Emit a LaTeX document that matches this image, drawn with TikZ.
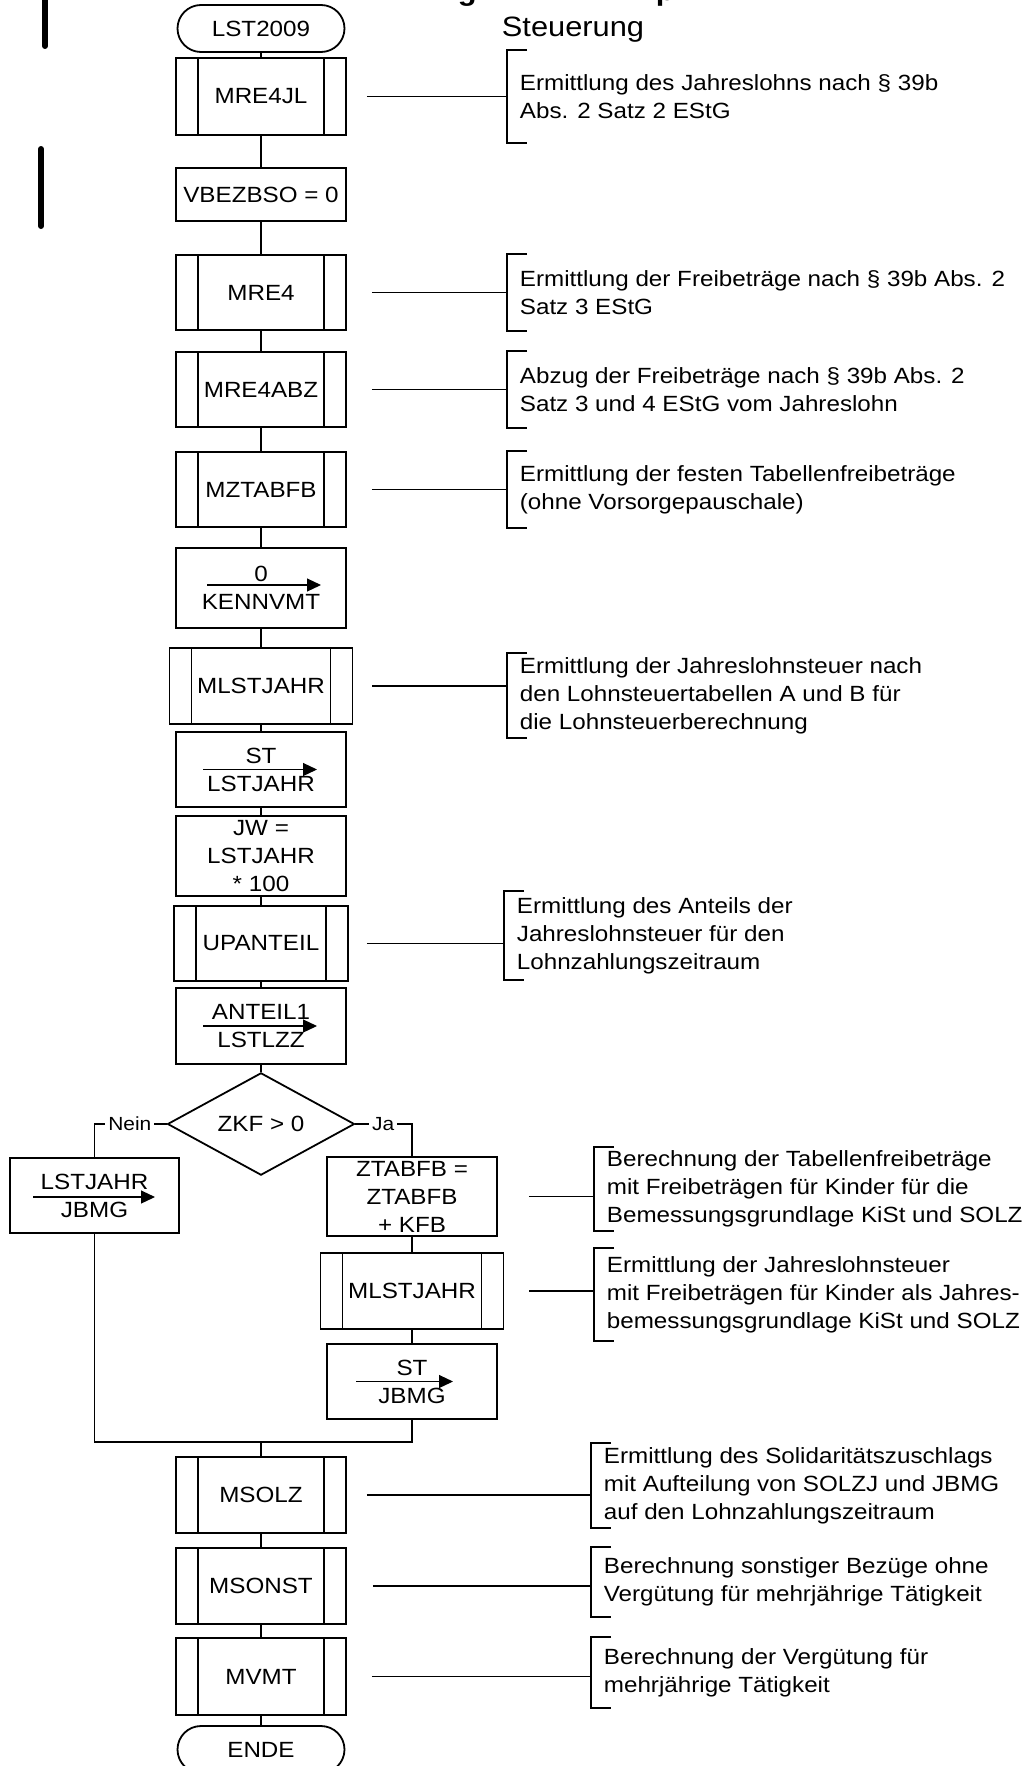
\documentclass[tikz,border=0pt]{standalone}
\usepackage{fontspec}
\setmainfont[FakeStretch=1.1]{Liberation Sans}
\usetikzlibrary{shapes.geometric,arrows.meta}

\begin{document}
\begin{tikzpicture}[x=0.5pt,y=-0.5pt,line width=0.9pt,
  every node/.style = {font=\fontsize{11pt}{14pt}\selectfont, align=center},
  term/.style = {shape=rectangle, rounded corners=11.75pt, draw,
    minimum width=83.5pt, minimum height=23.5pt},
  box/.style = {shape=rectangle, draw, inner sep=0pt,
    minimum width=85pt, minimum height=38pt},
  sub/.style = {box, path picture={
    \draw ([xshift=11pt]path picture bounding box.north west) -- ([xshift=11pt]path picture bounding box.south west)
          ([xshift=-11pt]path picture bounding box.north east) -- ([xshift=-11pt]path picture bounding box.south east);}},
  dec/.style = {shape=diamond, draw, inner sep=0pt,
    minimum width=93.5pt, minimum height=49pt},
  note/.style = {anchor=west, align=left, inner xsep=6pt, inner ysep=0pt},
  lbl/.style = {fill=white, inner xsep=1.5pt, inner ysep=0pt,
    font=\fontsize{9.5pt}{11pt}\selectfont},
  set/.style = {line width=0.6pt, -{Triangle[length=7pt,width=6.5pt]}}]
  \path[use as bounding box, fill=white] (0,0) rectangle (1029,1766);

  % title, cut off at the top
  \node[anchor=base west, inner sep=0pt, font=\fontsize{14pt}{17pt}\selectfont\bfseries] (tg) at (457,1) {g};
  \node[anchor=base west, inner sep=0pt, font=\fontsize{14pt}{17pt}\selectfont\bfseries] (tp) at (655,1) {p};
  \node[anchor=base west, inner sep=0pt, font=\fontsize{14pt}{17pt}\selectfont] (head) at (501,37) {Steuerung};
  \draw[line width=3pt, line cap=round] (45,-2) -- (45,46);
  \draw[line width=3pt, line cap=round] (41,149) -- (41,226);

  % main column
  \node[term] (lst) at (261,28.5) {LST2009};
  \node[sub, minimum height=38.5pt] (mre4jl) at (261,96.5) {MRE4JL};
  \node[box, minimum height=26.5pt] (vbez) at (261,194.5) {VBEZBSO = 0};
  \node[sub, minimum height=37.5pt] (mre4) at (261,292.5) {MRE4};
  \node[sub, minimum height=37.5pt] (mre4abz) at (261,389.5) {MRE4ABZ};
  \node[sub, minimum height=37.5pt] (mztabfb) at (261,489.5) {MZTABFB};
  \node[box, minimum height=40pt] (kennvmt) at (261,588) {0\\KENNVMT};
  \node[sub, minimum width=91.5pt] (mlst) at (261,686) {MLSTJAHR};
  \node[box, minimum height=37.5pt] (stlst) at (261,769.5) {ST\\LSTJAHR};
  \node[box, minimum height=40pt] (jw) at (261,856) {JW =\\LSTJAHR\\* 100};
  \node[sub, minimum width=87pt, minimum height=37.5pt] (upanteil) at (261,943.5) {UPANTEIL};
  \node[box] (anteil) at (261,1026) {ANTEIL1\\LSTLZZ};
  \node[dec] (zkf) at (261,1124) {ZKF > 0};

  % branches
  \node[box, minimum width=84.5pt, minimum height=37.5pt] (lstjbmg) at (94.5,1195.5) {LSTJAHR\\JBMG};
  \node[box, minimum height=39.5pt] (ztabfb) at (412,1196.5) {ZTABFB =\\ZTABFB\\+ KFB};
  \node[sub, minimum width=91.5pt] (mlst2) at (412,1291) {MLSTJAHR};
  \node[box, minimum height=37.5pt] (stjbmg) at (412,1381.5) {ST\\JBMG};
  \coordinate (merge) at (261,1442);

  \node[sub] (msolz) at (261,1495) {MSOLZ};
  \node[sub] (msonst) at (261,1586) {MSONST};
  \node[sub, minimum height=38.5pt] (mvmt) at (261,1676.5) {MVMT};
  \node[term] (ende) at (261,1749.5) {ENDE};

  % assignment arrows
  \draw[set] ([xshift=-27pt,yshift=1.5pt]kennvmt.center) -- ([xshift=30pt,yshift=1.5pt]kennvmt.center);
  \draw[set] ([xshift=-29pt]stlst.center) -- ([xshift=28pt]stlst.center);
  \draw[set] ([xshift=-29pt]anteil.center) -- ([xshift=28pt]anteil.center);
  \draw[set] ([xshift=-30.75pt,yshift=-0.75pt]lstjbmg.center) -- ([xshift=30.25pt,yshift=-0.75pt]lstjbmg.center);
  \draw[set] ([xshift=-28pt]stjbmg.center) -- ([xshift=20.5pt]stjbmg.center);

  % flow lines
  \foreach \a/\b in {lst/mre4jl, mre4jl/vbez, vbez/mre4, mre4/mre4abz, mre4abz/mztabfb,
      mztabfb/kennvmt, kennvmt/mlst, mlst/stlst, stlst/jw, jw/upanteil, upanteil/anteil,
      anteil/zkf, ztabfb/mlst2, mlst2/stjbmg, msolz/msonst, msonst/mvmt, mvmt/ende}
    \draw (\a.south) -- (\b.north);
  \draw (zkf.west) -| node[lbl, pos=0.255] {Nein} (lstjbmg.north);
  \draw (zkf.east) -| node[lbl, pos=0.246] {Ja} (ztabfb.north);
  \draw (lstjbmg.south) |- (stjbmg.south |- merge) -- (stjbmg.south);
  \draw (merge) -- (msolz.north);

  % comments
  \node[note, minimum height=45.5pt] (n1) at (507,96.5) {Ermittlung des Jahreslohns nach § 39b\\Abs. 2 Satz 2 EStG};
  \node[note, minimum height=37.5pt] (n2) at (507,292.5) {Ermittlung der Freibeträge nach § 39b Abs. 2\\Satz 3 EStG};
  \node[note, minimum height=37.5pt] (n3) at (507,389.5) {Abzug der Freibeträge nach § 39b Abs. 2\\Satz 3 und 4 EStG vom Jahreslohn};
  \node[note, minimum height=37.5pt] (n4) at (507,489.5) {Ermittlung der festen Tabellenfreibeträge\\(ohne Vorsorgepauschale)};
  \node[note, minimum height=41.5pt] (n5) at (507,695.5) {Ermittlung der Jahreslohnsteuer nach\\den Lohnsteuertabellen A und B für\\die Lohnsteuerberechnung};
  \node[note, minimum height=43.5pt] (n6) at (504,935.5) {Ermittlung des Anteils der\\Jahreslohnsteuer für den\\Lohnzahlungszeitraum};
  \node[note, minimum height=41pt] (n7) at (594,1189) {Berechnung der Tabellenfreibeträge\\mit Freibeträgen für Kinder für die\\Bemessungsgrundlage KiSt und SOLZ};
  \node[note, minimum height=45.5pt] (n8) at (594,1294.5) {Ermittlung der Jahreslohnsteuer\\mit Freibeträgen für Kinder als Jahres-\\bemessungsgrundlage KiSt und SOLZ};
  \node[note, minimum height=41.5pt] (n9) at (591,1485.5) {Ermittlung des Solidaritätszuschlags\\mit Aufteilung von SOLZJ und JBMG\\auf den Lohnzahlungszeitraum};
  \node[note, minimum height=34pt] (n10) at (591,1582) {Berechnung sonstiger Bezüge ohne\\Vergütung für mehrjährige Tätigkeit};
  \node[note, minimum height=34.5pt] (n11) at (591,1672.5) {Berechnung der Vergütung für\\mehrjährige Tätigkeit};

  \foreach \n in {n1,n2,n3,n4,n5,n6,n7,n8,n9,n10,n11}
    \draw ([xshift=10pt]\n.north west) -| (\n.south west) -- ++(10pt,0pt);
  \foreach \b/\n/\s in {mre4jl/n1/10pt, mre4/n2/12.5pt, mre4abz/n3/12.5pt, mztabfb/n4/12.5pt,
      mlst/n5/9.5pt, upanteil/n6/9pt, ztabfb/n7/15.5pt, mlst2/n8/12.5pt,
      msolz/n9/10pt, msonst/n10/13pt, mvmt/n11/12.5pt}
    \draw[shorten <=\s] (\b.east) -- (\b.east -| \n.west);
\end{tikzpicture}
\end{document}
